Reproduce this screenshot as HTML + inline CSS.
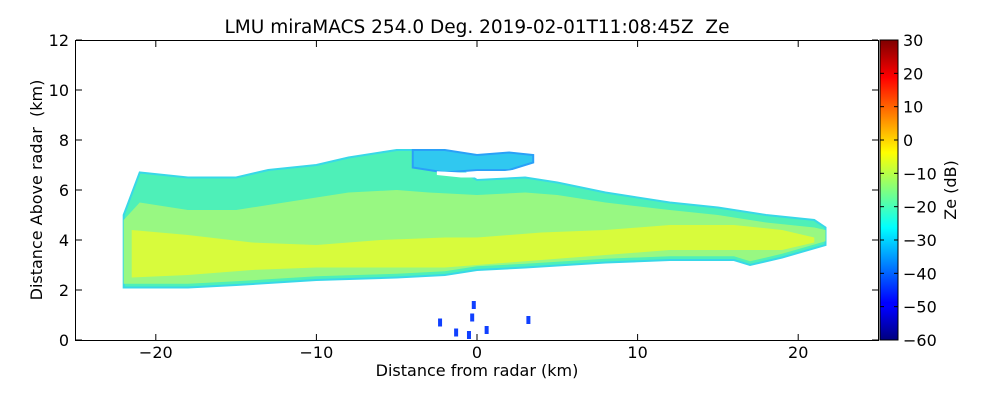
<!DOCTYPE html>
<html><head><meta charset="utf-8"><style>
body{margin:0;background:#fff;}
svg text{font-family:"DejaVu Sans","Liberation Sans",sans-serif;fill:#000;white-space:pre;}
</style></head><body>
<svg id="chart" width="1000" height="400">
<defs>
<linearGradient id="jet" x1="0" y1="1" x2="0" y2="0">
<stop offset="0" stop-color="#00007f"/><stop offset="0.11" stop-color="#0000ff"/>
<stop offset="0.125" stop-color="#0000ff"/><stop offset="0.375" stop-color="#00ffff"/>
<stop offset="0.625" stop-color="#ffff00"/><stop offset="0.875" stop-color="#ff0000"/>
<stop offset="1" stop-color="#7f0000"/>
</linearGradient>
</defs>
<text x="477" y="33" font-size="18.5" text-anchor="middle">LMU miraMACS 254.0 Deg. 2019-02-01T11:08:45Z  Ze</text>
<g id="data"></g>
<rect x="75.5" y="40.5" width="803" height="300" fill="none" stroke="#000"/>
<g id="axes"></g>
<rect x="880" y="40" width="18" height="300" fill="url(#jet)" stroke="#000"/>
<g id="cbticks"></g>
<text x="477" y="376" font-size="16" text-anchor="middle">Distance from radar (km)</text>
<text transform="translate(42,190) rotate(-90)" font-size="16" text-anchor="middle">Distance Above radar  (km)</text>
<text transform="translate(956,190) rotate(-90)" font-size="16" text-anchor="middle">Ze (dB)</text>
</svg>
<script>
const xTicks=[-20,-10,0,10,20];
const yTicks=[0,2,4,6,8,10,12];
const cbTicks=[30,20,10,0,-10,-20,-30,-40,-50,-60];
// cloud boundaries (km)
const topX=[-22,-21,-18,-15,-13,-10,-8,-5,-3,0,3,5,8,12,15,18,21,21.7];
const topY=[5.0,6.7,6.5,6.5,6.8,7.0,7.3,7.6,7.6,6.4,6.5,6.3,5.9,5.5,5.3,5.0,4.8,4.5];
const botX=[-22,-18,-15,-10,-5,-2,0,3,8,12,16,17,19,21.7];
const botY=[2.1,2.1,2.2,2.4,2.5,2.6,2.8,2.9,3.1,3.2,3.2,3.0,3.3,3.8];
const midTopY=[4.8,5.5,5.2,5.2,5.4,5.7,5.9,6.0,5.9,5.8,5.9,5.8,5.5,5.2,5.0,4.7,4.5,4.4];
const coreX=[-21.5,-18,-14,-10,-6,-2,0,4,8,12,16,19,21];
const coreTop=[4.4,4.2,3.9,3.8,4.0,4.1,4.1,4.3,4.4,4.6,4.6,4.4,4.1];
const coreBot=[2.5,2.6,2.8,2.9,2.9,2.9,3.0,3.2,3.4,3.6,3.6,3.6,3.9];
const upperX=[-4,-2,0,2,3.5];
const upperTop=[7.6,7.6,7.4,7.5,7.4];
const upperBot=[6.9,6.7,6.8,6.8,7.1];
const gapX=[-2.5,-1,1,3.5];
const gapTop=[6.75,6.7,6.7,6.9];
const gapBot=[6.6,6.5,6.5,6.6];
const X=v=>477+v*16.06, Y=v=>340-v*25, C=v=>340-(v+60)*300/90;
const NS='http://www.w3.org/2000/svg';
function mk(t,a,p){const e=document.createElementNS(NS,t);for(const k in a)e.setAttribute(k,a[k]);p.appendChild(e);return e;}
const d=document.getElementById('data');
function poly(xs,ys,xs2,ys2,fill,name,stroke){
  let pts=xs.map((x,i)=>X(x)+','+Y(ys[i]));
  for(let i=xs2.length-1;i>=0;i--)pts.push(X(xs2[i])+','+Y(ys2[i]));
  const e=mk('polygon',{points:pts.join(' '),fill:fill,stroke:stroke||'none','stroke-width':2},d);
  
  
}
poly(topX,topY,botX,botY,'#4ef0b8','cloud-outer','#38d8e8');
poly(topX,midTopY,botX,botY.map(v=>v+0.15),'#98f882','cloud-middle');
poly(coreX,coreTop,coreX,coreBot,'#d8fb3c','cloud-core');
poly(upperX,upperTop,upperX,upperBot,'#30c8f0','upper-layer','#2aa0f8');
poly(gapX,gapTop,gapX,gapBot,'#ffffff','upper-layer-gap');
const spotsX=[-1.3,-0.3,-0.2,-0.5,0.6,-2.3,3.2];
const spotsY=[0.3,0.9,1.4,0.2,0.4,0.7,0.8];
spotsX.forEach((x,i)=>{const e=mk('rect',{x:X(x)-2,y:Y(spotsY[i])-4,width:4,height:8,fill:'#1040ff'},d);

});
const ax=document.getElementById('axes');
xTicks.forEach(v=>{const x=X(v);
mk('line',{x1:x,y1:340,x2:x,y2:334,stroke:'#000'},ax);mk('line',{x1:x,y1:41,x2:x,y2:47,stroke:'#000'},ax);
const t=mk('text',{x:x,y:358,'font-size':16,'text-anchor':'middle'},ax);t.textContent=v<0?'\u2212'+(-v):v;

});
yTicks.forEach(v=>{const y=Y(v);
mk('line',{x1:76,y1:y,x2:82,y2:y,stroke:'#000'},ax);mk('line',{x1:878,y1:y,x2:872,y2:y,stroke:'#000'},ax);
const t=mk('text',{x:69,y:y+6,'font-size':16,'text-anchor':'end'},ax);t.textContent=v;

});
const cb=document.getElementById('cbticks');
cbTicks.forEach(v=>{const y=C(v);
mk('line',{x1:880,y1:y,x2:884,y2:y,stroke:'#000'},cb);mk('line',{x1:898,y1:y,x2:894,y2:y,stroke:'#000'},cb);
const t=mk('text',{x:903,y:y+6,'font-size':16},cb);t.textContent=v<0?'\u2212'+(-v):v;

});
</script>
</body></html>
